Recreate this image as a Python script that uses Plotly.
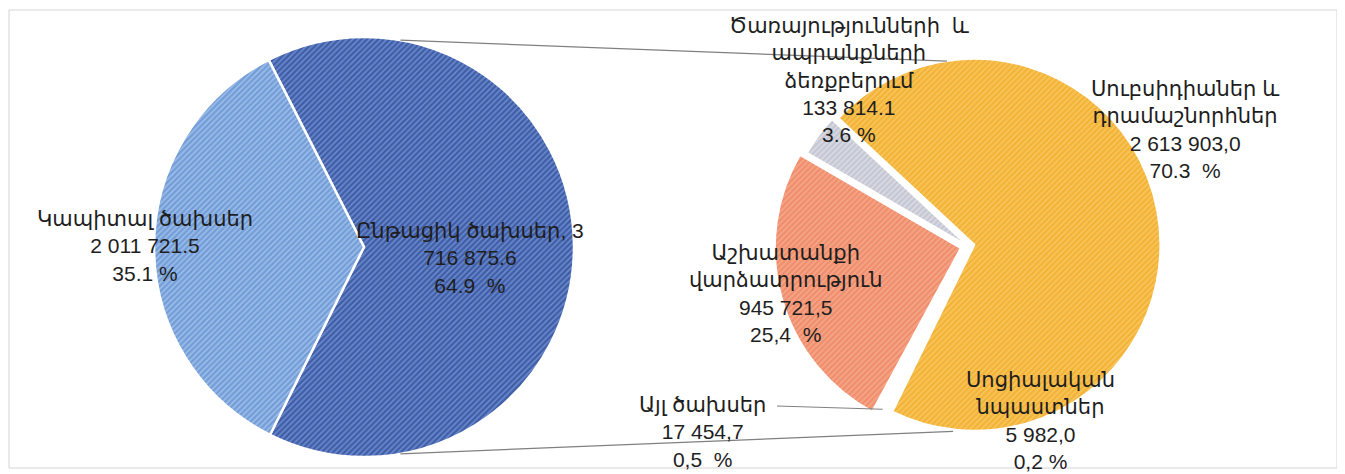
import math
import plotly.graph_objects as go

# ---------------- data ----------------
left_labels = ["Ընթացիկ ծախսեր", "Կապիտալ ծախսեր"]
left_values = [3716875.6, 2011721.5]
left_value_text = ["3 716 875.6", "2 011 721.5"]
left_pct_text = ["64.9  %", "35.1 %"]

right_labels = ["Սուբսիդիաներ և դրամաշնորհներ", "Սոցիալական նպաստներ", "Այլ ծախսեր",
                "Աշխատանքի վարձատրություն", "Ծառայությունների և ապրանքների ձեռքբերում"]
right_values = [2613903.0, 5982.0, 17454.7, 945721.5, 133814.1]
right_value_text = ["2 613 903,0", "5 982,0", "17 454,7", "945 721,5", "133 814.1"]
right_pct_text = ["70.3  %", "0,2 %", "0,5  %", "25,4  %", "3.6 %"]

# ---------------- geometry / styles ----------------
OFF = 8                      # default page margin of the html body
W, H = 1345 - OFF, 474 - OFF
LC = (364, 247); LR = 210
RC = (968, 246); RR = 186
right_pull = [0.035, 0.0, 0.0, 0.04, 0]
maxpull = max(right_pull)

def px2x(px):
    return (px - OFF) / W

def py2y(py):
    return 1 - (py - OFF) / H

def dom(c, r):
    return dict(x=[px2x(c[0] - r), px2x(c[0] + r)],
                y=[py2y(c[1] + r), py2y(c[1] - r)])

def pt(c, r, ang):
    a = math.radians(ang)
    return c[0] + r * math.sin(a), c[1] - r * math.cos(a)

fig = go.Figure()

fig.add_trace(go.Pie(
    labels=left_labels, values=left_values, sort=False, direction="clockwise",
    rotation=-27, textinfo="none", hoverinfo="label+value+percent",
    domain=dom(LC, LR), showlegend=False,
    marker=dict(colors=["#6a8bd0", "#9dbeea"],
                line=dict(color="white", width=2.5),
                pattern=dict(shape=["/", "/"], fgcolor=["#18307a", "#4a7cc4"],
                             fillmode="overlay", size=4, solidity=0.62)),
))

fig.add_trace(go.Pie(
    labels=right_labels, values=right_values, sort=False, direction="clockwise",
    rotation=-47, textinfo="none", hoverinfo="label+value+percent",
    pull=right_pull,
    domain=dom(RC, RR * (1 + maxpull)), showlegend=False,
    marker=dict(colors=["#f7c458", "#ffffff", "#ffffff", "#f4a486", "#d8d9e2"],
                line=dict(color="white", width=2),
                pattern=dict(shape=["/", "", "", "/", "/"],
                             fgcolor=["#ee9e12", "#ffffff", "#ffffff", "#ea7350", "#aeb1c0"],
                             fillmode="overlay", size=4, solidity=0.5)),
))

FONT = dict(family="Arial, 'Liberation Sans', 'DejaVu Sans', sans-serif", size=21, color="#1e1e1e")

def label(x, y, lines):
    fig.add_annotation(x=px2x(x), y=py2y(y), xref="paper", yref="paper",
                       text="<br>".join(lines), showarrow=False, font=FONT,
                       align="center", xanchor="center", yanchor="middle")

label(145, 246, ["Կապիտալ ծախսեր", left_value_text[1], left_pct_text[1]])
label(470, 258, ["Ընթացիկ ծախսեր, 3", left_value_text[0][2:], left_pct_text[0]])

label(850, 80, ["Ծառայությունների  և", "ապրանքների", "ձեռքբերում",
                right_value_text[4], right_pct_text[4]])
label(1185, 129, ["Սուբսիդիաներ և", "դրամաշնորհներ", right_value_text[0], right_pct_text[0]])
label(785, 293, ["Աշխատանքի", "վարձատրություն", right_value_text[3], right_pct_text[3]])
label(1040, 420, ["Սոցիալական", "նպաստներ", right_value_text[1], right_pct_text[1]])
label(702, 432, ["Այլ ծախսեր", right_value_text[2], right_pct_text[2]])

# connector lines between the two pies
shapes = []
tl = pt(LC, LR, 10); tr = pt(RC, RR, -6.5)
bl = pt(LC, LR, 170); br = pt(RC, RR, 184.6)
for a, b in [(tl, tr), (bl, br)]:
    shapes.append(dict(type="line", xref="paper", yref="paper",
                       x0=px2x(a[0]), y0=py2y(a[1]), x1=px2x(b[0]), y1=py2y(b[1]),
                       line=dict(color="#808080", width=1.3)))
# leader line for "other" slice
tot = sum(right_values)
ang_other = -47 + 360 * (right_values[0] + right_values[1] + right_values[2] / 2) / tot
op = pt(RC, RR * 0.99, ang_other)
shapes.append(dict(type="line", xref="paper", yref="paper",
                   x0=px2x(777), y0=py2y(406), x1=px2x(op[0]), y1=py2y(op[1]),
                   line=dict(color="#808080", width=1.1)))
# outer frame
shapes.append(dict(type="rect", xref="paper", yref="paper",
                   x0=px2x(9), y0=py2y(468), x1=px2x(1337), y1=py2y(10),
                   line=dict(color="#d4d4d4", width=1)))

fig.update_layout(width=W, height=H, margin=dict(l=0, r=0, t=0, b=0),
                  paper_bgcolor="white", plot_bgcolor="white", shapes=shapes)

fig.write_html("out.html")
